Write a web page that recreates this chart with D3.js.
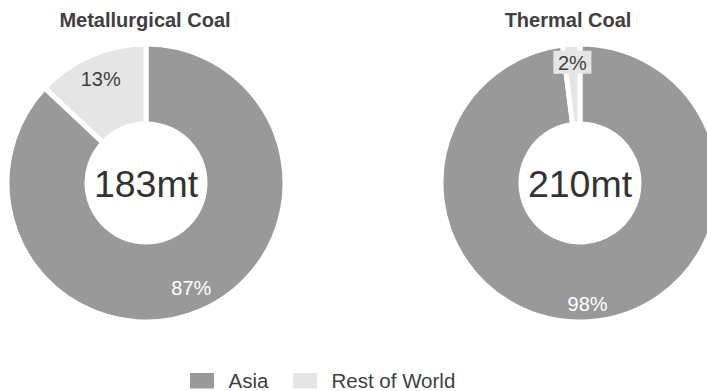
<!DOCTYPE html>
<html>
<head>
<meta charset="utf-8">
<script src="https://cdn.jsdelivr.net/npm/d3@7"></script>
<style>
  html, body { margin: 0; padding: 0; background: #fff; }
  svg { display: block; }
  text { font-family: "Liberation Sans", Arial, Helvetica, sans-serif; }
</style>
</head>
<body>
<svg id="chart" width="707" height="391"></svg>
<script>
// ---- Data ----
const categories = ["Asia", "Rest of World"];
const chartTitles = ["Metallurgical Coal", "Thermal Coal"];
const totals = ["183mt", "210mt"];
const metValues = [87, 13];
const thermalValues = [98, 2];
const seriesValues = [metValues, thermalValues];

// ---- Styles / layout ----
const colors = d3.scaleOrdinal().domain(categories).range(["#999999", "#e5e5e5"]);
const labelColors = d3.scaleOrdinal().domain(categories).range(["#ffffff", "#404040"]);
const W = 707, H = 391;
const layouts = [
  { cx: 146, cy: 183, titleX: 145, labelR: 114 },
  { cx: 580, cy: 183, titleX: 568, labelR: 121 }
];
const outerR = 139, innerR = 59, strokeW = 5;

const svg = d3.select("#chart");

const pie = d3.pie().sort(null).value(d => d.value).startAngle(0).endAngle(2 * Math.PI);
const arc = d3.arc().innerRadius(innerR).outerRadius(outerR);

seriesValues.forEach((vals, i) => {
  const L = layouts[i];
  const data = categories.map((c, j) => ({ cat: c, value: vals[j] }));
  const arcs = pie(data);

  svg.append("text")
    .attr("x", L.titleX).attr("y", 27)
    .attr("text-anchor", "middle")
    .attr("font-size", 20).attr("font-weight", "bold")
    .attr("fill", "#404040")
    .text(chartTitles[i]);

  const g = svg.append("g").attr("transform", `translate(${L.cx},${L.cy})`);

  g.selectAll("path.slice").data(arcs).enter().append("path")
    .attr("class", "slice")
    .attr("d", arc)
    .attr("fill", d => colors(d.data.cat))
    .attr("stroke", "#ffffff")
    .attr("stroke-width", strokeW)
    .attr("stroke-linejoin", "miter");

  const labelArc = d3.arc().innerRadius(L.labelR).outerRadius(L.labelR);

  const lab = g.selectAll("g.lab").data(arcs).enter().append("g")
    .attr("class", "lab")
    .attr("transform", d => `translate(${labelArc.centroid(d)})`);

  lab.filter(d => d.data.cat !== categories[0])
    .append("rect")
    .attr("x", -19).attr("y", -11.5).attr("width", 38).attr("height", 23)
    .attr("fill", d => colors(d.data.cat));

  lab.append("text")
    .attr("text-anchor", "middle")
    .attr("y", 7.3)
    .attr("font-size", 20)
    .attr("fill", d => labelColors(d.data.cat))
    .text(d => d.data.value + "%");

  g.append("text")
    .attr("text-anchor", "middle")
    .attr("y", 13.5)
    .attr("font-size", 37.5)
    .attr("fill", "#333333")
    .text(totals[i]);
});

// ---- Legend ----
const legendItems = [
  { cat: categories[0], x: 190 },
  { cat: categories[1], x: 293 }
];
const lg = svg.append("g");
legendItems.forEach(it => {
  lg.append("rect")
    .attr("x", it.x).attr("y", 373)
    .attr("width", 24).attr("height", 15.5)
    .attr("fill", colors(it.cat));
  lg.append("text")
    .attr("x", it.x + 38.5).attr("y", 388)
    .attr("font-size", 20.5)
    .attr("fill", "#404040")
    .text(it.cat);
});
</script>
</body>
</html>
